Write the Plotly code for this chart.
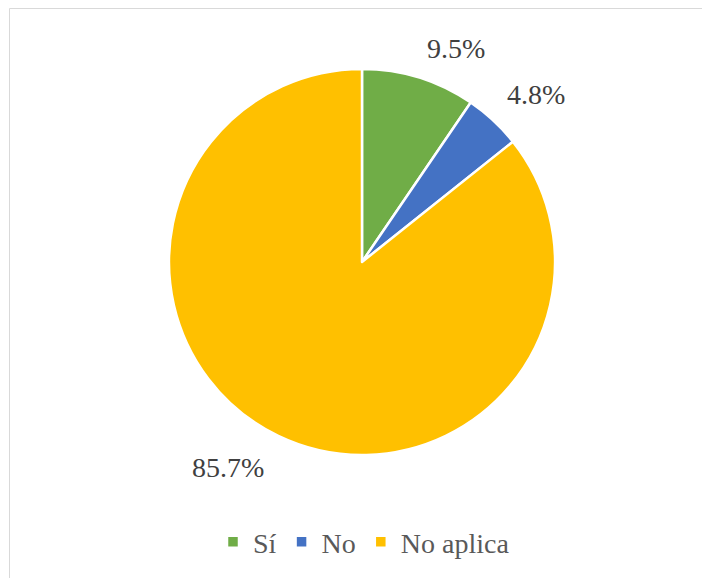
import math
import plotly.graph_objects as go

# Survey answers (counts) and their display colours
categories = ["Sí", "No", "No aplica"]
counts = [2, 1, 18]
colors = ["#70AD47", "#4472C4", "#FFC000"]

W, H = 702, 578
# Pie circle in pixels: centre and radius
CX, CY, R = 362, 262, 193
SERIF = "Liberation Serif"

fig = go.Figure(
    go.Pie(
        labels=categories,
        values=counts,
        sort=False,
        direction="clockwise",
        rotation=0,
        textinfo="none",
        hoverinfo="label+percent",
        marker=dict(colors=colors, line=dict(color="white", width=2.5)),
        domain=dict(
            x=[(CX - R) / W, (CX + R) / W],
            y=[(H - CY - R) / H, (H - CY + R) / H],
        ),
    )
)

# Percentage labels placed just outside the end of each slice
total = sum(counts)
label_font = dict(family=SERIF, size=28, color="#404040")
cum = 0.0
for c in counts:
    frac = c / total
    mid = (cum + frac / 2) * 2 * math.pi  # clockwise from 12 o'clock
    cum += frac
    dx, dy = math.sin(mid), -math.cos(mid)  # screen direction (y down)
    d = R + 14
    px, py = CX + d * dx, CY + d * dy
    fig.add_annotation(
        x=px / W, y=1 - (py + 1.5) / H, xref="paper", yref="paper",
        text=f"{frac * 100:.1f}%", showarrow=False, font=label_font,
        xanchor="left" if dx >= 0 else "right",
        yanchor="bottom" if dy < 0 else "top",
        xshift=-6 if dx < 0 else 2,
    )

# Chart area border
fig.add_shape(
    type="rect", xref="paper", yref="paper",
    x0=9.5 / W, x1=1.05, y0=-0.05, y1=1 - 8.5 / H,
    line=dict(color="#D9D9D9", width=1), fillcolor="rgba(0,0,0,0)", layer="above",
)

fig.update_layout(
    width=W, height=H,
    margin=dict(l=0, r=0, t=0, b=0),
    paper_bgcolor="white", plot_bgcolor="white",
    font=dict(family=SERIF),
    showlegend=True,
    legend=dict(
        orientation="h", x=0.5 + 13 / W, xanchor="center", y=1 - 542 / H, yanchor="middle",
        font=dict(family=SERIF, size=28, color="#595959"),
        itemwidth=30, bgcolor="rgba(0,0,0,0)",
    ),
)

fig.write_html("out.html")
